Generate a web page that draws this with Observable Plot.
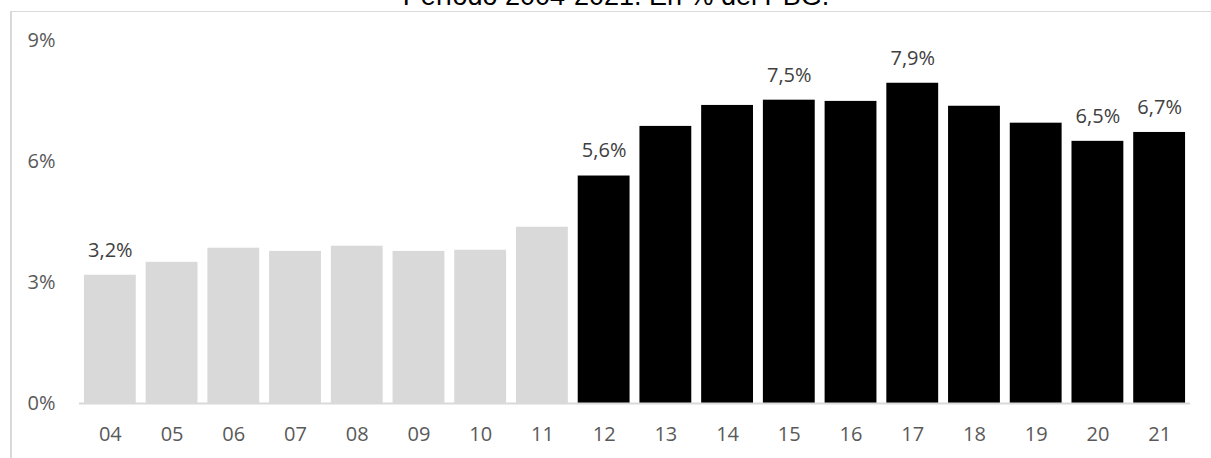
<!DOCTYPE html>
<html>
<head>
<meta charset="utf-8">
<script src="https://cdn.jsdelivr.net/npm/d3@7"></script>
<script src="https://cdn.jsdelivr.net/npm/@observablehq/plot@0.6"></script>
<style>
  html, body { margin: 0; padding: 0; background: #fff; }
  #wrap { position: relative; width: 1211px; height: 458px; overflow: hidden; }
  #frame { position: absolute; left: 10px; top: 11px; right: -2px; bottom: -2px;
           border-top: 1px solid #d9d9d9; border-left: 2px solid #d9d9d9; }
  #title { position: absolute; left: 0; width: 1232px; top: -17px; text-align: center;
           font-family: "Liberation Sans", Arial, sans-serif; font-size: 27px; line-height: 27px; color: #000; white-space: nowrap; }
  #chart { position: absolute; left: 0; top: 0; }
</style>
</head>
<body>
<div id="wrap">
  <div id="title">Período 2004-2021. En % del PBG.</div>
  <div id="frame"></div>
  <div id="chart"></div>
</div>
<script>
// Data
const years = ["04","05","06","07","08","09","10","11","12","13","14","15","16","17","18","19","20","21"];
const values = [3.18, 3.50, 3.85, 3.77, 3.90, 3.77, 3.80, 4.37, 5.64, 6.87, 7.39, 7.52, 7.49, 7.94, 7.37, 6.95, 6.50, 6.72];
const firstPeriod = ["04","05","06","07","08","09","10","11"];
const labeledYears = ["04","12","15","17","20","21"];
const yTicks = [0, 3, 6, 9];
const yTickLabels = ["0%", "3%", "6%", "9%"];

const data = years.map((y, i) => ({
  year: y,
  value: values[i],
  group: firstPeriod.includes(y) ? "A" : "B"
}));
const labelData = data.filter(d => labeledYears.includes(d.year));
const fmt = v => v.toFixed(1).replace(".", ",") + "%";

const chart = Plot.plot({
  width: 1211,
  height: 458,
  marginLeft: 79,
  marginRight: 21,
  marginTop: 40,
  marginBottom: 55,
  style: { background: "transparent", fontFamily: "'Open Sans', sans-serif", overflow: "visible" },
  x: { domain: years, paddingInner: 0.16, paddingOuter: 0.08, round: false, label: null },
  y: { domain: [0, 9], label: null },
  color: { domain: ["A", "B"], range: ["#d9d9d9", "#000000"] },
  marks: [
    Plot.barY(data, { x: "year", y: "value", fill: "group" }),
    Plot.ruleY([0], { stroke: "#d9d9d9", strokeWidth: 2 }),
    Plot.text(labelData, { x: "year", y: "value", text: d => fmt(d.value), dy: -25,
      fill: "#404040", fontSize: 20, lineAnchor: "middle" }),
    Plot.axisX({ tickSize: 0, tickPadding: 23, fontSize: 20, color: "#595959", label: null }),
    Plot.axisY({ ticks: yTicks, tickFormat: (d) => yTickLabels[yTicks.indexOf(d)], tickSize: 0, tickPadding: 24,
      fontSize: 20, color: "#595959", label: null })
  ]
});
document.getElementById("chart").appendChild(chart);
</script>
</body>
</html>
